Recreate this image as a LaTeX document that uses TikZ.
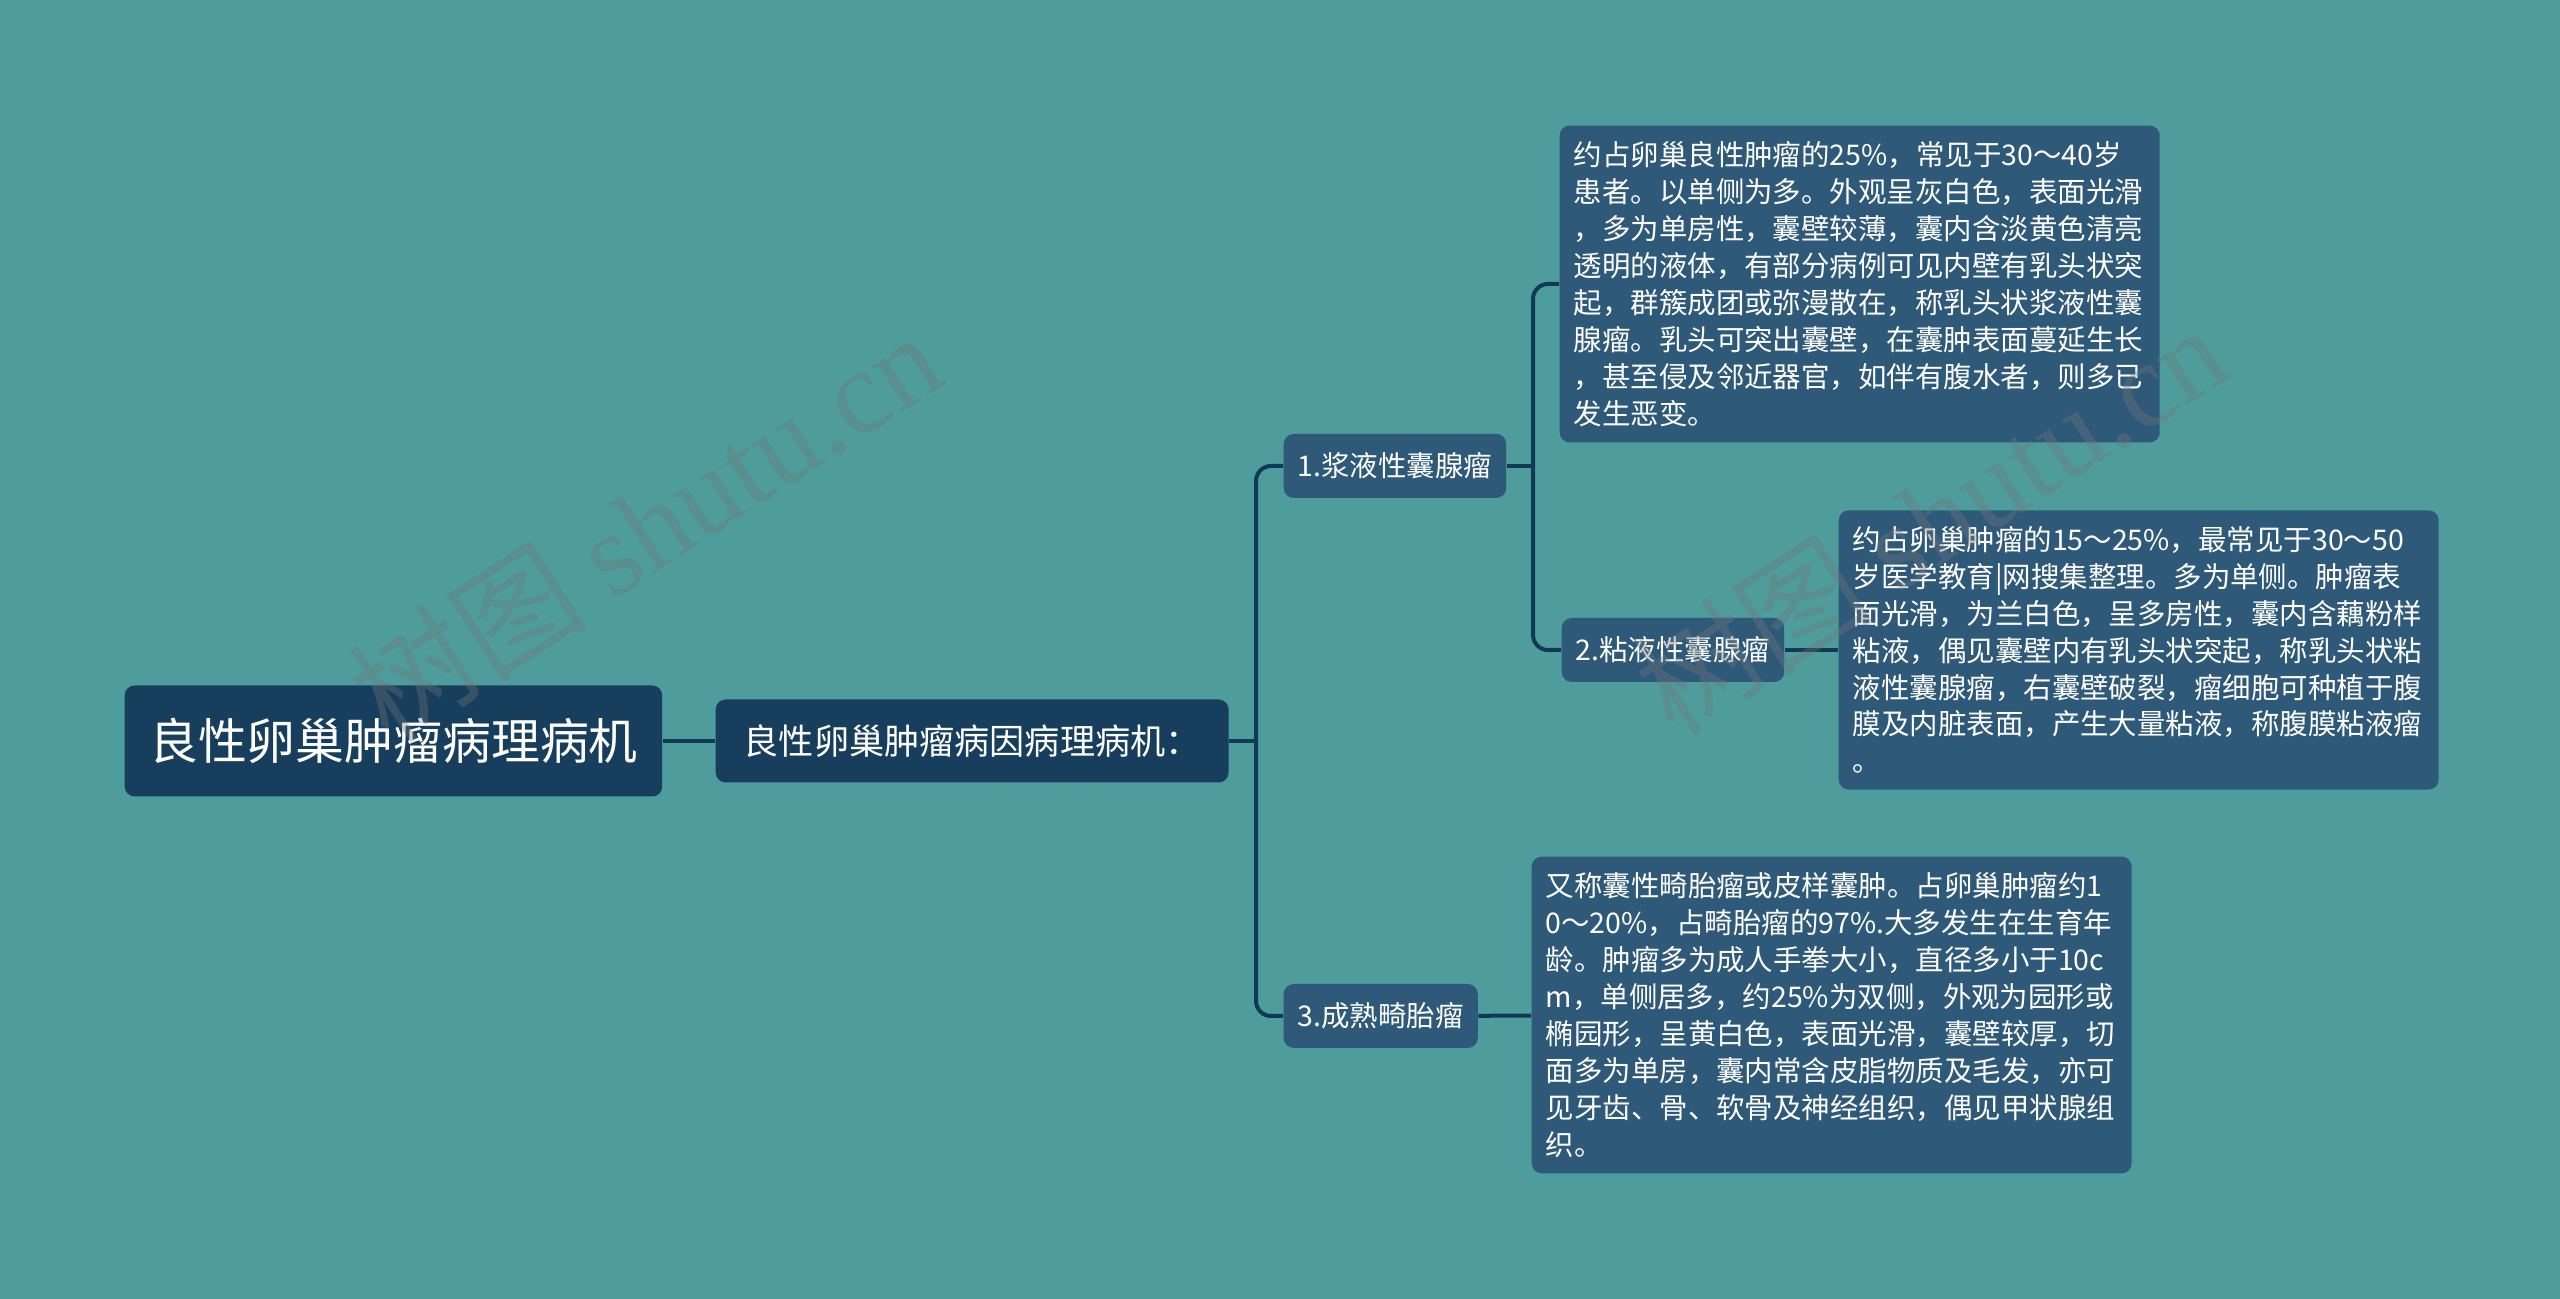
\documentclass[tikz,border=0pt]{standalone}
\usepackage{fontspec}
\setmainfont{Noto Sans CJK SC}
\newfontfamily\wmfont{Liberation Serif}
\definecolor{myTeal}{RGB}{78,156,156}
\definecolor{myNavy}{RGB}{23,62,93}
\definecolor{myBlue}{RGB}{46,89,121}
\definecolor{myLine}{RGB}{18,57,86}
\definecolor{myMark}{RGB}{115,120,122}
\tikzset{
	box/.style={text=white, rounded corners=0.1cm, anchor=west},
	rootbox/.style={box, fill=myNavy, inner xsep=0.245cm, minimum height=1.11cm, font=\fontsize{13.9pt}{16pt}\selectfont},
	midbox/.style={box, fill=myNavy, inner xsep=0.28cm, minimum height=0.83cm, font=\fontsize{10pt}{12pt}\selectfont},
	subbox/.style={box, fill=myBlue, inner xsep=0.14cm, minimum height=0.64cm, font=\fontsize{8.1pt}{10pt}\selectfont},
	leafbox/.style={box, fill=myBlue, inner xsep=0.14cm, inner ysep=0.16cm, text width=5.72cm, align=left, font=\fontsize{8.1pt}{10.5pt}\selectfont},
	link/.style={draw=myLine, line width=0.04cm},
	wmark/.style={text=myMark, text opacity=0.35, rotate=33, font=\fontsize{34pt}{34pt}\selectfont}
}
\begin{document}
\begin{tikzpicture}
				\useasboundingbox[fill=myTeal] (0,0) rectangle (25.6,12.99);
				\draw (1.24,5.58) node[rootbox] (R) {良性卵巢肿瘤病理病机};
				\draw (7.15,5.58) node[midbox] (M) {良性卵巢肿瘤病因病理病机：};
				\draw (12.83,8.33) node[subbox] (A) {1.浆液性囊腺瘤};
				\draw (15.61,6.49) node[subbox] (B) {2.粘液性囊腺瘤};
				\draw (12.83,2.83) node[subbox] (C) {3.成熟畸胎瘤};
				\draw (15.59,10.15) node[leafbox] (A1) {约占卵巢良性肿瘤的25\%，常见于30～40岁\\患者。以单侧为多。外观呈灰白色，表面光滑\\，多为单房性，囊壁较薄，囊内含淡黄色清亮\\透明的液体，有部分病例可见内壁有乳头状突\\起，群簇成团或弥漫散在，称乳头状浆液性囊\\腺瘤。乳头可突出囊壁，在囊肿表面蔓延生长\\，甚至侵及邻近器官，如伴有腹水者，则多已\\发生恶变。};
				\draw (18.38,6.49) node[leafbox] (B1) {约占卵巢肿瘤的15～25\%，最常见于30～50\\岁医学教育|网搜集整理。多为单侧。肿瘤表\\面光滑，为兰白色，呈多房性，囊内含藕粉样\\粘液，偶见囊壁内有乳头状突起，称乳头状粘\\液性囊腺瘤，右囊壁破裂，瘤细胞可种植于腹\\膜及内脏表面，产生大量粘液，称腹膜粘液瘤\\。};
				\draw (15.31,2.84) node[leafbox] (C1) {又称囊性畸胎瘤或皮样囊肿。占卵巢肿瘤约1\\0～20\%，占畸胎瘤的97\%.大多发生在生育年\\龄。肿瘤多为成人手拳大小，直径多小于10c\\m，单侧居多，约25\%为双侧，外观为园形或\\椭园形，呈黄白色，表面光滑，囊壁较厚，切\\面多为单房，囊内常含皮脂物质及毛发，亦可\\见牙齿、骨、软骨及神经组织，偶见甲状腺组\\织。};
				\coordinate (J1) at (12.56,5.58);
				\coordinate (J2) at (15.33,8.33);

				% connectors
				\draw[link] (R) -- (M);
				\draw[link] (M) -- (J1);
				\draw[link, rounded corners=0.15cm] (A.west) -| (J1) |- (C.west);
				\draw[link] (A) -- (J2);
				\draw[link, rounded corners=0.15cm] (A1.west) -| (J2) |- (B.west);
				\draw[link] (B) -- (B1);
				\draw[link] (C) -- (C1);

				% watermarks
				\node[wmark] (W1) at (6.45,7.73) {树图 {\wmfont shutu.cn}};
				\node[wmark] (W2) at (19.30,7.80) {树图 {\wmfont shutu.cn}};
			\end{tikzpicture}
\end{document}
